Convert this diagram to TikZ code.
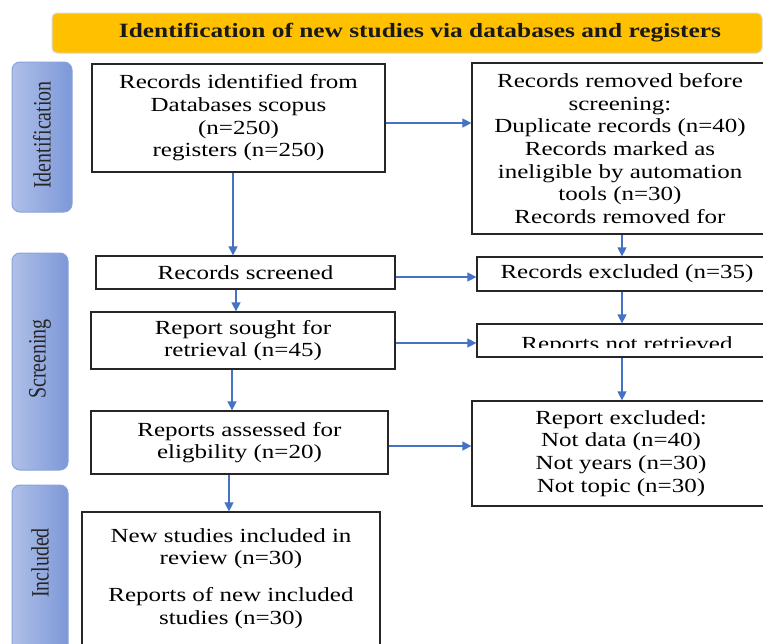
\documentclass[tikz,border=0pt]{standalone}
\usepackage{fontspec}
\setmainfont{Liberation Serif}[FakeStretch=1.25]
\newfontfamily\sidefont{Liberation Serif}
\usetikzlibrary{arrows.meta}
\definecolor{arrblue}{HTML}{4472C4}
\definecolor{gold}{HTML}{FFC000}
\definecolor{sideL}{HTML}{AFC0E8}
\definecolor{sideR}{HTML}{7D98D8}
\definecolor{sideB}{HTML}{8AA2DC}
\begin{document}
\begin{tikzpicture}[x=1pt,y=-1pt,
  box/.style={draw=black!85, line width=1.3pt, fill=white, align=center,
    font=\fontsize{20}{22.7}\selectfont, inner sep=0pt, text=black},
  arr/.style={draw=arrblue, line width=1.5pt, -{Triangle[length=9pt,width=9pt]}},
  side/.style={draw=sideB, line width=1pt, rounded corners=8pt,
    left color=sideL, right color=sideR, inner sep=0pt},
  sidetext/.style={rotate=90, text=black!85, font=\sidefont\fontsize{20}{22}\selectfont},
  titlebox/.style={draw=black!15, line width=1pt, fill=gold, rounded corners=5pt, inner sep=0pt}]
\useasboundingbox (0,0) rectangle (763,643);
\fill[white] (0,0) rectangle (763,643);

% title
\node[titlebox, minimum width=710, minimum height=40] (title) at (407,33) {};
\node[font=\bfseries\fontsize{20.3}{22}\selectfont, text=black!90] (titletext) at (420,33)
  {Identification of new studies via databases and registers};

% side labels
\node[side, minimum width=60, minimum height=150] (sid) at (42,137) {};
\node[sidetext] (sidt) at (42,135) {\scalebox{1}[1.25]{Identification}};
\node[side, minimum width=56, minimum height=217] (sscr) at (40,361.5) {};
\node[sidetext] (sscrt) at (40,359) {\scalebox{1}[1.25]{Screening}};
\node[side, minimum width=56, minimum height=175] (sinc) at (40,572.5) {};
\node[sidetext] (sinct) at (40,563) {\scalebox{1}[1.25]{Included}};

% boxes
\node[box, minimum width=293, minimum height=108] (b1) at (238.5,118)
  {Records identified from\\Databases scopus\\(n=250)\\registers (n=250)};
\node[box, minimum width=296, minimum height=171] (rem) at (620,148.5)
  {Records removed before\\screening:\\Duplicate records (n=40)\\Records marked as\\ineligible by automation\\tools (n=30)\\Records removed for};
\node[box, minimum width=299, minimum height=33] (scr) at (245.5,272.5) {Records screened};
\node[box, minimum width=300, minimum height=34] (exc) at (627,274) {Records excluded (n=35)};
\node[box, minimum width=304, minimum height=57] (sought) at (243,340.5)
  {Report sought for\\retrieval (n=45)};
\node[box, minimum width=300, minimum height=33] (nr) at (627,340.5) {};
\begin{scope}
  \clip (478,325) rectangle (776,347.5);
  \node[font=\fontsize{20}{22.7}\selectfont, text=black] (nrt) at (627,345.5) {Reports not retrieved};
\end{scope}
\node[box, minimum width=297, minimum height=63] (ass) at (239.5,442.5)
  {Reports assessed for\\eligbility (n=20)};
\node[box, minimum width=298, minimum height=105] (rex) at (621,453.5)
  {Report excluded:\\Not data (n=40)\\Not years (n=30)\\Not topic (n=30)};
\node[box, minimum width=298, minimum height=140] (inc) at (231,582)
  {New studies included in\\review (n=30)\\[14pt]Reports of new included\\studies (n=30)\\[-11pt]\mbox{}};

% arrows
\draw[arr] ([xshift=-5.5]b1.south) -- ([xshift=-5.5]b1.south |- scr.north);
\draw[arr] ([yshift=-5]b1.east) -- ([yshift=-5]b1.east -| rem.west);
\draw[arr] ([xshift=2]rem.south) -- ([xshift=2]rem.south |- exc.north);
\draw[arr] ([yshift=-4.5]scr.east) -- ([yshift=-4.5]scr.east -| exc.west);
\draw[arr] ([xshift=-9.5]scr.south) -- ([xshift=-9.5]scr.south |- sought.north);
\draw[arr] ([xshift=-5]exc.south) -- ([xshift=-5]exc.south |- nr.north);
\draw[arr] ([yshift=-2.5]sought.east) -- ([yshift=-2.5]sought.east -| nr.west);
\draw[arr] ([xshift=-11]sought.south) -- ([xshift=-11]sought.south |- ass.north);
\draw[arr] ([xshift=-5]nr.south) -- ([xshift=-5]nr.south |- rex.north);
\draw[arr] ([yshift=-3.5]ass.east) -- ([yshift=-3.5]ass.east -| rex.west);
\draw[arr] ([xshift=-10.5]ass.south) -- ([xshift=-10.5]ass.south |- inc.north);
\end{tikzpicture}
\end{document}
